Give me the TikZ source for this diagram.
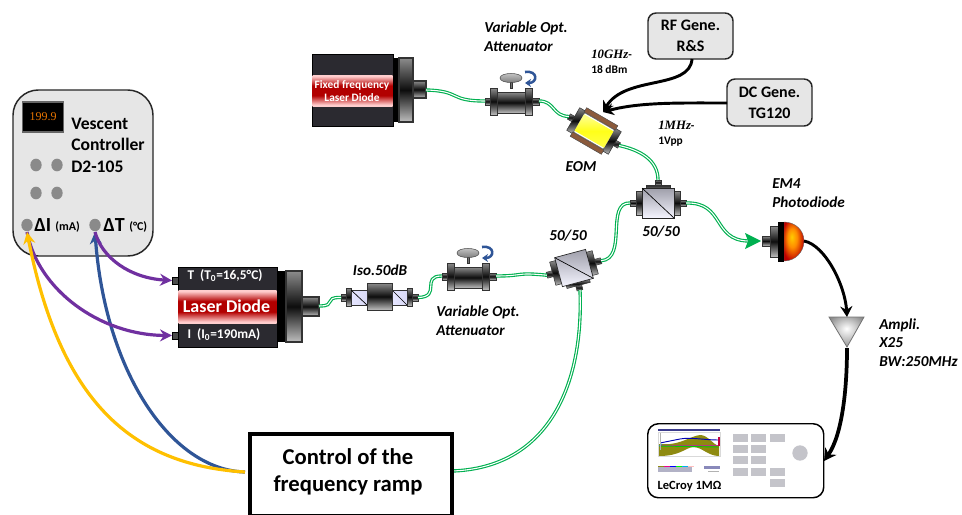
\documentclass[tikz,border=0pt]{standalone}
\usepackage{fontspec}
\setmainfont{Carlito}
\newfontfamily\serifnum{Liberation Serif}
\usetikzlibrary{arrows.meta}
\definecolor{fibergreen}{HTML}{00B050}
\definecolor{ctrlgray}{HTML}{E6E6E6}
\definecolor{dotgray}{HTML}{8A8A8A}
\definecolor{boxdark}{HTML}{2B2A30}
\definecolor{ampyellow}{HTML}{FFC000}
\definecolor{rampblue}{HTML}{2F5597}
\definecolor{wirepurple}{HTML}{7030A0}
\definecolor{btngray}{HTML}{C4C4CA}
\definecolor{brownel}{HTML}{8B5A3C}
\definecolor{navyscope}{HTML}{3B3B8C}
\definecolor{olivescope}{HTML}{8E8A10}
\pgfdeclareverticalshading{redband}{100bp}{color(0bp)=(red!10!white); color(27bp)=(red!20!white); color(42bp)=(red!70!black); color(50bp)=(red!70!black); color(58bp)=(red!70!black); color(73bp)=(red!20!white); color(100bp)=(red!10!white)}
\pgfdeclareverticalshading{metal}{100bp}{color(0bp)=(black!20); color(25bp)=(black!25); color(50bp)=(black!95); color(75bp)=(black!45); color(100bp)=(black!45)}
\pgfdeclareverticalshading{yellowtube}{100bp}{color(0bp)=(yellow!70!white); color(30bp)=(yellow!75!white); color(50bp)=(yellow!90!white); color(70bp)=(yellow!50!white); color(100bp)=(yellow!30!white)}
\pgfdeclareradialshading{domeshade}{\pgfpoint{-6bp}{6bp}}{color(0bp)=(yellow!60!orange); color(12bp)=(orange!90!yellow); color(28bp)=(red!75!black); color(50bp)=(red!60!black)}
\pgfdeclareradialshading{ampshade}{\pgfpoint{0bp}{6bp}}{color(0bp)=(white); color(30bp)=(black!45); color(50bp)=(black!50)}
\tikzset{
  x=0.75pt,y=-0.75pt,
  fiber/.style={draw=fibergreen,double=white,line width=.85pt,double distance=.8pt},
  wire/.style={line width=2.4pt,-{Stealth[length=9pt,width=9pt]}},
  heavywire/.style={line width=2.8pt,-{Stealth[length=9pt,width=10pt]}},
  thinwire/.style={line width=2.2pt,-{Stealth[length=8pt,width=9pt]}},
  ctrlbox/.style={draw=black!85,line width=1.1pt,fill=ctrlgray,rounded corners=6pt,align=center,inner sep=0pt,font=\fontsize{12}{15.5}\selectfont\bfseries},
  tag/.style={inner sep=0pt,anchor=west,align=left,font=\fontsize{11.4}{14}\selectfont\bfseries\itshape},
  ctag/.style={tag,anchor=center,align=center},
  small/.style={inner sep=0pt,anchor=west,align=left,font=\fontsize{8.6}{11}\selectfont\bfseries},
  part/.style={draw=black!80,line width=.4pt,shading=metal},
  attenuator/.pic={
    \draw[part] (-26,-3) rectangle (-21,4);
    \draw[part] (21,-3) rectangle (28,4);
    \draw[part] (-21,-13) rectangle (-14,14);
    \draw[part] (14,-13) rectangle (21,14);
    \draw[part] (-14,-9) rectangle (14,12);
    \draw[draw=black!80,fill=black!55,line width=.4pt] (-1,-19) rectangle (1,-13);
    \draw[draw=black!70,top color=black!20,bottom color=black!55,line width=.4pt] (-11,-23) .. controls (-11,-29) and (11,-29) .. (11,-23) .. controls (11,-17) and (-11,-17) .. (-11,-23) -- cycle;
    \draw[rampblue,line width=1.9pt,-{Stealth[length=4.5pt,width=6pt]}] (14,-29) .. controls (27,-31) and (27,-18) .. (14,-18);
    \coordinate (-in) at (-26,0); \coordinate (-out) at (28,0);
  },
  splitter/.pic={
    \draw[part] (-28,-3) rectangle (-22,3);
    \draw[part] (22,-3) rectangle (28,3);
    \draw[part] (-3,-23) rectangle (3,-18);
    \draw[part] (-12,-18) rectangle (12,-15);
    \draw[part] (-22,-12) rectangle (-16,12);
    \draw[part] (16,-12) rectangle (22,12);
    \draw[draw=black!85,line width=.5pt,bottom color=blue!4!white,top color=blue!12!black!38!white] (-16,-15) rectangle (16,15);
    \draw[black,line width=.5pt] (-16,-15) -- (16,15);
    \coordinate (-in) at (-28,0); \coordinate (-out) at (28,0); \coordinate (-top) at (0,-23);
  },
  eom/.pic={
    \draw[part] (-29,-3) rectangle (-24,3);
    \draw[part] (24,-3) rectangle (29,3);
    \draw[part,shading=metal] (-24,-13) rectangle (-17,13);
    \draw[part] (17,-13) rectangle (24,13);
    \draw[draw=black!60,line width=.3pt,fill=white] (-17,-11) rectangle (17,11);
    \draw[draw=none,shading=yellowtube] (-17,-9.5) rectangle (17,9.5);
    \draw[draw=black!70,line width=.35pt,fill=brownel] (-18,-16.5) rectangle (18,-11.5);
    \draw[draw=black!70,line width=.35pt,fill=brownel] (-18,11.5) rectangle (18,16.5);
    \coordinate (-in) at (-29,0); \coordinate (-out) at (29,0);
  }
}
\begin{document}
\begin{tikzpicture}
\useasboundingbox (0,0) rectangle (962,514);
\clip (0,0) rectangle (962,514);

% controller
\node[draw=black!85,line width=1.1pt,fill=ctrlgray,rounded corners=19pt,minimum width=105pt,minimum height=124.5pt,inner sep=0pt] (ctrl) at (83,173) {};
\node[draw=black!60,line width=1.2pt,fill=black,minimum width=31pt,minimum height=22.5pt,inner sep=0pt,text=orange!90!black,font=\serifnum\fontsize{9}{9}\selectfont] (disp) at (43,117) {199.9};
\node[inner sep=0pt,anchor=west,align=left,font=\fontsize{13.2}{16.1}\selectfont\bfseries] (ctrltxt) at (71,145) {Vescent\\Controller\\D2-105};
\foreach \n/\px/\py in {a/36/165,b/57/165,c/36/193,d/57/193}{
  \node[circle,fill=dotgray,inner sep=0pt,minimum width=8.5pt,yscale=1.12] (dot\n) at (\px,\py) {};
}
\node[circle,fill=dotgray,inner sep=0pt,minimum width=8.5pt,yscale=1.1] (dI) at (27,225) {};
\node[circle,fill=dotgray,inner sep=0pt,minimum width=8.5pt,yscale=1.1] (dT) at (95,225) {};
\node[inner sep=0pt,anchor=west,font=\fontsize{15}{15}\selectfont\bfseries] (dIt) at (34,225) {ΔI};
\node[inner sep=0pt,anchor=west,font=\fontsize{9}{9}\selectfont\bfseries] (dIu) at (55,227) {(mA)};
\node[inner sep=0pt,anchor=west,font=\fontsize{15}{15}\selectfont\bfseries] (dTt) at (103,225) {ΔT};
\node[inner sep=0pt,anchor=west,font=\fontsize{9}{9}\selectfont\bfseries] (dTu) at (129,227) {(°C)};
\coordinate (dIp) at (27,232); \coordinate (dTp) at (95,232);

% laser diode
\draw[draw=black,line width=.5pt,fill=black!70] (172,277) rectangle (178,284);
\draw[draw=black,line width=.5pt,fill=black!70] (172,332) rectangle (178,339);
\node[draw=black,line width=.8pt,fill=boxdark,minimum width=74.25pt,minimum height=60pt,inner sep=0pt,anchor=north west] (ld) at (178,267) {};
\fill[shading=redband] (178.5,290) rectangle (276.5,323);
\node[inner sep=0pt,text=white,font=\fontsize{13.5}{13.5}\selectfont\bfseries] (ldt) at (226.5,306.5) {Laser Diode};
\node[inner sep=0pt,text=white,font=\fontsize{10}{10}\selectfont\bfseries] (ldT) at (225,275.5) {T\ \ (T\textsubscript{0}=16,5°C)};
\node[inner sep=0pt,text=white,font=\fontsize{10}{10}\selectfont\bfseries] (ldI) at (224,335) {I\ \ (I\textsubscript{0}=190mA)};
\fill[black] (277,271) rectangle (286,342);
\draw[part,line width=.8pt] (286,271) rectangle (302,342);
\draw[part,line width=.8pt] (302,297) rectangle (319,316);
\coordinate (ldT-pin) at (172,280.5); \coordinate (ldI-pin) at (172,335.5); \coordinate (ld-out) at (319,306);

% fixed laser
\node[draw=black,line width=.8pt,fill=boxdark,minimum width=60.75pt,minimum height=54pt,inner sep=0pt,anchor=north west] (fl) at (312,54) {};
\fill[shading=redband] (312.5,75) rectangle (392.5,106);
\node[inner sep=0pt,align=center,text=white,font=\fontsize{8.5}{10.4}\selectfont\bfseries] (flt) at (352,91) {Fixed frequency\\Laser Diode};
\fill[black] (393,58) rectangle (399,122);
\draw[part,line width=.8pt] (399,58) rectangle (413,122);
\draw[part,line width=.8pt] (413,81) rectangle (426,98);
\coordinate (fl-out) at (426,90);

% components
\pic (atA) at (511,101) {attenuator};
\pic (atB) at (468,276) {attenuator};
\pic[rotate=-30] (mod) at (594,131) {eom};
\pic (splA) at (658,203) {splitter};
\pic[rotate=195] (splB) at (574,268) {splitter};

% isolator
\draw[part] (341,294) rectangle (346,301);
\draw[part] (412,294) rectangle (418,301);
\draw[part] (346,288) rectangle (351,306);
\draw[part] (407,288) rectangle (412,306);
\draw[draw=black!80,line width=.4pt,left color=blue!10!white,right color=black!25!blue!15!white] (351,290) rectangle (367,305);
\draw[draw=black!80,line width=.4pt,left color=blue!10!white,right color=black!25!blue!15!white] (392,290) rectangle (407,305);
\draw[black,line width=.5pt] (351,290) -- (367,305);
\draw[black,line width=.5pt] (392,290) -- (407,305);
\node[part,minimum width=18.75pt,minimum height=20.25pt,inner sep=0pt] (iso) at (379.5,296.5) {};
\coordinate (iso-in) at (341,297.5); \coordinate (iso-out) at (418,297.5);

% fibers
\draw[fiber] (fl-out) .. controls (462,91) and (448,101) .. (atA-in);
\draw[fiber] (atA-out) .. controls (555,101) and (552,116) .. (mod-in);
\draw[fiber] (mod-out) .. controls (640,150) and (658,160) .. (splA-top);
\draw[fiber] (ld-out) .. controls (338,306) and (322,297) .. (iso-in);
\draw[fiber] (iso-out) .. controls (442,297) and (420,276) .. (atB-in);
\draw[fiber] (atB-out) .. controls (525,276) and (515,272) .. (splB-out);
\draw[fiber] (splB-in) .. controls (628,259) and (605,202) .. (splA-in);
\coordinate (pd-base) at (748,241);
\draw[fiber] (splA-out) .. controls (725,202) and (712,240) .. (pd-base);
\coordinate (ramp-e) at (452,471);
\draw[fiber] (580,290) .. controls (584,390) and (545,468) .. (ramp-e);
\coordinate (pd-in) at (761,241);
\fill[fibergreen] (pd-in) -- (745,233) -- (748,241) -- (745,249) -- cycle;

% photodiode
\draw[part] (762,236) rectangle (770,246);
\draw[part] (770,226) rectangle (778,257);
\draw[draw=black!60,line width=.3pt,shading=domeshade] (784,222) .. controls (795,222) and (804,230) .. (804,241) .. controls (804,252) and (795,261) .. (784,261) -- cycle;
\fill[black] (778,222) rectangle (784,262);
\coordinate (pd-out) at (804,241);

% amplifier
\draw[draw=black!55,line width=.6pt,shading=ampshade] (829,317) -- (864,317) -- (847,347) -- cycle;
\coordinate (amp-in) at (847,317); \coordinate (amp-out) at (847,348);

% oscilloscope
\node[draw=black,line width=1.1pt,fill=white,rounded corners=8pt,minimum width=132pt,minimum height=55.5pt,inner sep=0pt,anchor=north west] (scope) at (647,423) {};
\coordinate (scope-in) at (824,461);
\fill[navyscope] (658,428.5) rectangle (720,431);
\draw[black!15,line width=.2pt] (658,432) rectangle (720,456);
\fill[olivescope] (659,444) .. controls (680,446) and (690,436) .. (700,435) .. controls (708,435) and (712,444) .. (719,446) -- (719,456) .. controls (708,456) and (702,447) .. (693,447) .. controls (685,448) and (680,456) .. (659,456) -- cycle;
\draw[blue!70!black,line width=.7pt] (660,443) -- (680,439) .. controls (690,437) and (705,440) .. (718,440);
\draw[magenta!70!black,line width=.6pt] (660,445) -- (718,445);
\draw[green!80!black,line width=.7pt] (659,446) -- (719,447);
\draw[cyan!70!black,line width=.5pt] (659,446) -- (662,444);
\fill[purple] (717.5,437) rectangle (719.5,446);
\draw[black!30,line width=.3pt] (660,433) -- (660,450);
\fill[blue!25!black!30!white] (658,467) rectangle (692,472);
\foreach \cx/\cc in {658/olivescope,664/magenta,670/blue,676/green,682/cyan,688/pink}{\fill[\cc] (\cx,465.5) rectangle (\cx+5.5,467);}
\fill[navyscope!60] (704,466) rectangle (720,469);
\fill[black!30] (708,471) rectangle (719,472);
\foreach \bx/\by in {733/434,751/434,770/434,733/445,751/445,733/456,751/456,733/468,751/468,770/468,770/479}{
  \fill[btngray] (\bx,\by) rectangle (\bx+15,\by+8);
}
\node[circle,fill=btngray,inner sep=0pt,minimum width=11.5pt] (knob) at (800,453) {};
\node[inner sep=0pt,font=\fontsize{9.4}{9.4}\selectfont\bfseries] (scopet) at (689.5,486) {LeCroy 1MΩ};

% generators
\node[ctrlbox,minimum width=63.75pt,minimum height=34.5pt] (rf) at (690.5,36) {RF Gene.\\R\&S};
\node[ctrlbox,minimum width=63.75pt,minimum height=35.25pt] (dc) at (769.5,102.5) {DC Gene.\\TG120};
\coordinate (rf-out) at (692,59); \coordinate (dc-out) at (727,103); \coordinate (mod-tip) at (603,112);

% ramp box
\node[draw=black,line width=3.4pt,fill=white,minimum width=151.5pt,minimum height=62pt,inner sep=0pt,anchor=north west] (ramp) at (247.5,431.5) {};
\node[inner sep=0pt,align=center,font=\fontsize{17}{20}\selectfont\bfseries] (rampt) at (348,471.5) {Control of the\\frequency ramp};
\coordinate (ramp-w) at (245,472);

% wires
\draw[rampblue,wire] (ramp-w) .. controls (170,470) and (105,370) .. (dTp);
\draw[wirepurple,wire] (dTp) .. controls (102,258) and (130,278) .. (ldT-pin);
\draw[wirepurple,wire] (dIp) .. controls (38,290) and (100,335) .. (ldI-pin);
\draw[ampyellow,wire] (ramp-w) .. controls (130,465) and (60,400) .. (dIp);
\draw[black,thinwire] (rf-out) .. controls (690,90) and (625,75) .. (mod-tip);
\draw[black,thinwire] (dc-out) .. controls (680,103) and (640,102) .. (mod-tip);
\draw[black,thinwire] (pd-out) .. controls (825,245) and (845,285) .. (amp-in);
\draw[black,heavywire] (amp-out) .. controls (847,390) and (842,435) .. (scope-in);

% labels
\node[tag] (l1) at (484,36.5) {Variable Opt.\\Attenuator};
\node[tag] (l2) at (436,320.5) {Variable Opt.\\Attenuator};
\node[ctag] (l3) at (380,270) {Iso.50dB};
\node[ctag] (l4) at (568,236) {50/50};
\node[ctag] (l5) at (661,232) {50/50};
\node[ctag] (l6) at (581,167) {EOM};
\node[tag] (l7) at (772,193) {EM4\\Photodiode};
\node[tag] (l8) at (879,342.5) {Ampli.\\X25\\BW:250MHz};
\node[small] (l9) at (591,61.5) {{\serifnum\itshape\fontsize{9.6}{11}\selectfont 10GHz}-\\18 dBm};
\node[small] (l10) at (658,133.5) {{\serifnum\itshape\fontsize{9.6}{11}\selectfont 1MHz}-\\1Vpp};
\end{tikzpicture}
\end{document}
